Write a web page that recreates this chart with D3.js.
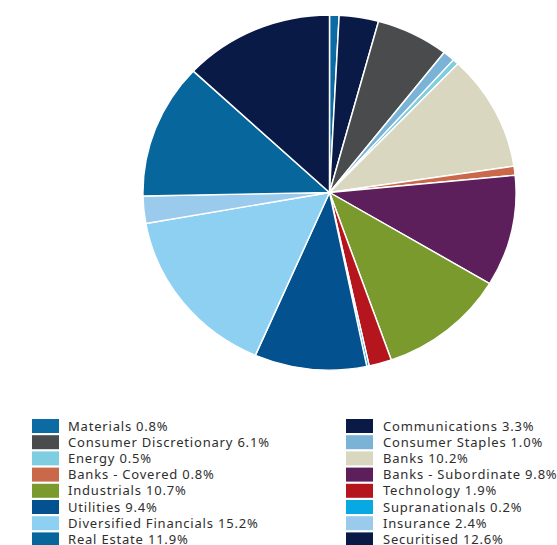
<!DOCTYPE html>
<meta charset="utf-8">
<style>
  body { margin: 0; background: #fff; }
  svg { display: block; }
  .legend text { font-family: "Noto Sans", sans-serif; font-size: 13px; letter-spacing: 0.8px; fill: #2e2e2e; }
</style>
<body>
<div id="vis"></div>
<script src="https://cdn.jsdelivr.net/npm/d3@7/dist/d3.min.js"></script>
<script>

const width = 557,
    height = 545;

// slices in pie order (clockwise from 12 o'clock)
const sectors = ['Materials', 'Communications', 'Consumer Discretionary', 'Consumer Staples',
  'Energy', 'Banks', 'Banks - Covered', 'Banks - Subordinate', 'Industrials', 'Technology',
  'Supranationals', 'Utilities', 'Diversified Financials', 'Insurance', 'Real Estate', 'Securitised'];
const weights = [0.8, 3.3, 6.1, 1.0, 0.5, 10.2, 0.8, 9.8, 10.7, 1.9, 0.2, 9.4, 15.2, 2.4, 11.9, 12.6];
const colours = ['#0d6ba3', '#0a1a46', '#4a4b4d', '#7ab3d6', '#7fcde0', '#d9d7c0', '#c9694a', '#5c1f5c',
  '#7a9a2e', '#b5161e', '#08a8e2', '#03518f', '#8ed0f2', '#9acbed', '#07679c', '#0a1a46'];

// legend layout: two columns, read row by row
const leftCol = ['Materials', 'Consumer Discretionary', 'Energy', 'Banks - Covered',
  'Industrials', 'Utilities', 'Diversified Financials', 'Real Estate'];
const rightCol = ['Communications', 'Consumer Staples', 'Banks', 'Banks - Subordinate',
  'Technology', 'Supranationals', 'Insurance', 'Securitised'];

const colour = d3.scaleOrdinal().domain(sectors).range(colours);
const weightOf = {};
sectors.forEach((s, i) => { weightOf[s] = weights[i]; });

const svg = d3.select('#vis').append('svg')
    .attr('width', width)
    .attr('height', height);

const r = 177.5;
const pieG = svg.append('g')
    .attr('transform', 'translate(329.5,192.5) scale(1.051,1)');

const pie = d3.pie().sort(null).value(d => d.value);
const arc = d3.arc().innerRadius(0).outerRadius(r);

const slices = pie(sectors.map((s, i) => ({ name: s, value: weights[i] })));

pieG.selectAll('.slice')
  .data(slices)
  .enter().append('path')
  .attr('class', 'slice')
  .attr('d', arc)
  .style('fill', d => colour(d.data.name))
  .style('stroke', '#fff')
  .style('stroke-width', 1.4)
  .style('stroke-linejoin', 'round');

const rowY = d3.scaleLinear().domain([0, 1]).range([426, 442.2]);

const legend = svg.append('g').attr('class', 'legend');

const drawColumn = (names, x0, tx) => {
  const g = legend.append('g');
  g.selectAll('rect')
    .data(names)
    .enter().append('rect')
    .attr('x', x0)
    .attr('y', (d, i) => rowY(i) - 7)
    .attr('width', 27)
    .attr('height', 14)
    .style('fill', d => colour(d));
  g.selectAll('text')
    .data(names)
    .enter().append('text')
    .attr('x', tx)
    .attr('y', (d, i) => rowY(i))
    .attr('dy', '0.36em')
    .text(d => d + ' ' + d3.format('.1f')(weightOf[d]) + '%');
};

drawColumn(leftCol, 32, 68);
drawColumn(rightCol, 346, 383);

</script>
</body>
